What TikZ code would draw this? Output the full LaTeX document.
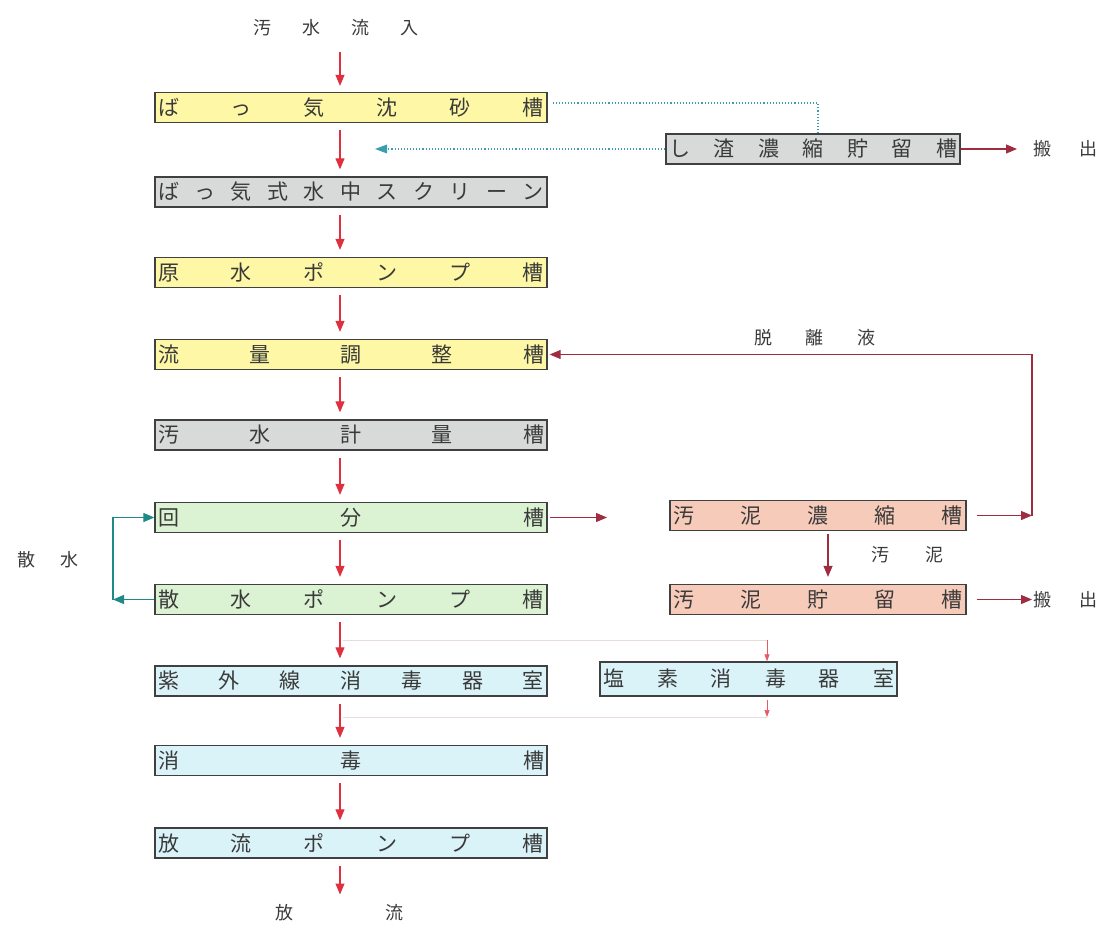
\documentclass[tikz,border=0pt]{standalone}
\usepackage{fontspec}
\setmainfont{Noto Sans CJK JP}
\usetikzlibrary{arrows.meta}
\definecolor{boxyellow}{HTML}{FDF7A6}
\definecolor{boxgray}{HTML}{D8DADA}
\definecolor{boxgreen}{HTML}{DBF2D3}
\definecolor{boxpink}{HTML}{F7CBBA}
\definecolor{boxblue}{HTML}{DAF3F8}
\definecolor{flowred}{HTML}{E0303F}
\definecolor{maroon}{HTML}{A02C42}
\definecolor{tealline}{HTML}{1F8A85}
\definecolor{dotteal}{HTML}{3C9CB0}
\definecolor{txt}{HTML}{3A3A3A}
\definecolor{faint}{HTML}{E6DCDC}
\tikzset{
  tank/.style={draw=black!75, line width=1.3pt, minimum height=30pt, inner sep=0pt,
    text=txt, font=\fontsize{21}{22}\selectfont},
  mainbox/.style={tank, minimum width=392pt},
  sidebox/.style={tank, minimum width=296pt},
  lbl/.style={text=txt, font=\fontsize{18}{20}\selectfont, inner sep=0pt},
  flow/.style={draw=flowred, line width=1.1pt, -{Triangle[width=9pt,length=11pt]}},
  thinflow/.style={draw=flowred!80, line width=0.6pt, -{Triangle[width=5pt,length=7pt]}},
  sludge/.style={draw=maroon, line width=1.2pt, -{Triangle[width=9pt,length=11pt]}},
  spray/.style={draw=tealline, line width=1.2pt, -{Triangle[width=9pt,length=11pt]}},
  dotline/.style={draw=dotteal, line width=1.1pt, dotted},
  faintline/.style={draw=faint, line width=0.8pt}
}
% characters spread evenly across a given width
\newcommand{\spreadtxt}[2]{\makebox[#1]{#2}}
\begin{document}
\begin{tikzpicture}[x=1pt,y=-1pt]
\useasboundingbox (0,0) rectangle (1102,941);

% main treatment line
\node[mainbox, fill=boxyellow] (b1) at (351,107.5) {\spreadtxt{386pt}{ば\hfill っ\hfill 気\hfill 沈\hfill 砂\hfill 槽}};
\node[mainbox, fill=boxgray] (b2) at (351,192) {\spreadtxt{386pt}{ば\hfill っ\hfill 気\hfill 式\hfill 水\hfill 中\hfill ス\hfill ク\hfill リ\hfill ー\hfill ン}};
\node[mainbox, fill=boxyellow] (b3) at (351,272.5) {\spreadtxt{386pt}{原\hfill 水\hfill ポ\hfill ン\hfill プ\hfill 槽}};
\node[mainbox, fill=boxyellow] (b4) at (351,354.5) {\spreadtxt{386pt}{流\hfill 量\hfill 調\hfill 整\hfill 槽}};
\node[mainbox, fill=boxgray] (b5) at (351,435) {\spreadtxt{386pt}{汚\hfill 水\hfill 計\hfill 量\hfill 槽}};
\node[mainbox, fill=boxgreen] (b6) at (351,517.5) {\spreadtxt{386pt}{回\hfill 分\hfill 槽}};
\node[mainbox, fill=boxgreen] (b7) at (351,599.5) {\spreadtxt{386pt}{散\hfill 水\hfill ポ\hfill ン\hfill プ\hfill 槽}};
\node[mainbox, fill=boxblue] (b8) at (351,681) {\spreadtxt{386pt}{紫\hfill 外\hfill 線\hfill 消\hfill 毒\hfill 器\hfill 室}};
\node[mainbox, fill=boxblue] (b9) at (351,760.5) {\spreadtxt{386pt}{消\hfill 毒\hfill 槽}};
\node[mainbox, fill=boxblue] (b10) at (351,843) {\spreadtxt{386pt}{放\hfill 流\hfill ポ\hfill ン\hfill プ\hfill 槽}};

% side units
\node[sidebox, minimum width=294pt, fill=boxgray] (r1) at (813,149) {\spreadtxt{288pt}{し\hfill 渣\hfill 濃\hfill 縮\hfill 貯\hfill 留\hfill 槽}};
\node[sidebox, fill=boxpink] (r2) at (818,515.5) {\spreadtxt{290pt}{汚\hfill 泥\hfill 濃\hfill 縮\hfill 槽}};
\node[sidebox, fill=boxpink] (r3) at (818,599.5) {\spreadtxt{290pt}{汚\hfill 泥\hfill 貯\hfill 留\hfill 槽}};
\node[sidebox, minimum width=297pt, minimum height=34pt, fill=boxblue] (r4) at (748.5,679) {\spreadtxt{291pt}{塩\hfill 素\hfill 消\hfill 毒\hfill 器\hfill 室}};

% free labels
\node[lbl] (inlet) at (336,28) {\spreadtxt{165pt}{汚\hfill 水\hfill 流\hfill 入}};
\node[lbl] (outlet) at (339,913) {\spreadtxt{128pt}{放\hfill 流}};
\node[lbl] (spraylbl) at (48,560) {\spreadtxt{62pt}{散\hfill 水}};
\node[lbl] (filtrate) at (815,338) {\spreadtxt{122pt}{脱\hfill 離\hfill 液}};
\node[lbl] (sludgelbl) at (907,555) {\spreadtxt{72pt}{汚\hfill 泥}};
\node[lbl, anchor=west] (out1) at (1033,149) {\spreadtxt{64pt}{搬\hfill 出}};
\node[lbl, anchor=west] (out2) at (1033,599.5) {\spreadtxt{64pt}{搬\hfill 出}};

% flow axis
\coordinate (ax) at (340,0);
\draw[flow] ([yshift=-16pt]inlet.south -| ax) -- ([yshift=6pt]b1.north -| ax);
\foreach \a/\b in {b1/b2,b2/b3,b3/b4,b4/b5,b5/b6,b6/b7,b7/b8,b8/b9,b9/b10}
  \draw[flow] ([yshift=-7pt]\a.south -| ax) -- ([yshift=7pt]\b.north -| ax);
\draw[flow] ([yshift=-7pt]b10.south -| ax) -- ([yshift=10pt]outlet.north -| ax);

% screenings route (dotted)
\coordinate (dtop) at (818,103);
\draw[dotline] ([xshift=5pt,yshift=4.5pt]b1.east) -- (dtop) -- (dtop |- r1.north);
\draw[dotline] (r1.west) -- (385,149);
\fill[dotteal] (375,149) -- (387,144.5) -- (387,153.5) -- cycle;
\draw[sludge] (r1.east) -- ([xshift=-16pt]out1.west |- r1.east);

% spray water loop
\coordinate (sl1) at (113,599.5);
\coordinate (sl2) at (113,517.5);
\draw[spray] (b7.west) -- (sl1);
\draw[spray] (sl1) -- (sl2) -- (b6.west);

% sludge route
\coordinate (sj) at (607,517.5);
\draw[sludge] ([xshift=2pt]b6.east) -- (sj);
\coordinate (fr) at (1032,515.5);
\draw[sludge] ([xshift=10pt]r2.east) -- (fr);
\draw[sludge] (fr) -- (fr |- b4.east) -- ([xshift=2pt]b4.east);
\draw[sludge] ([yshift=-3pt]r2.south -| 828,0) -- ([yshift=7pt]r3.north -| 828,0);
\draw[sludge] ([xshift=10pt]r3.east) -- ([xshift=-1pt]out2.west |- r3.east);

% chlorination bypass (faint)
\coordinate (cb1) at (343,640);
\coordinate (cb2) at (767,640);
\coordinate (cb3) at (767,717);
\coordinate (cb4) at (343,717);
\draw[faintline] (cb1) -- (cb2);
\draw[thinflow] (cb2) -- (cb2 |- r4.north);
\draw[thinflow] ([yshift=-3pt]r4.south -| cb3) -- (cb3);
\draw[faintline] (cb3) -- (cb4);
\end{tikzpicture}
\end{document}
